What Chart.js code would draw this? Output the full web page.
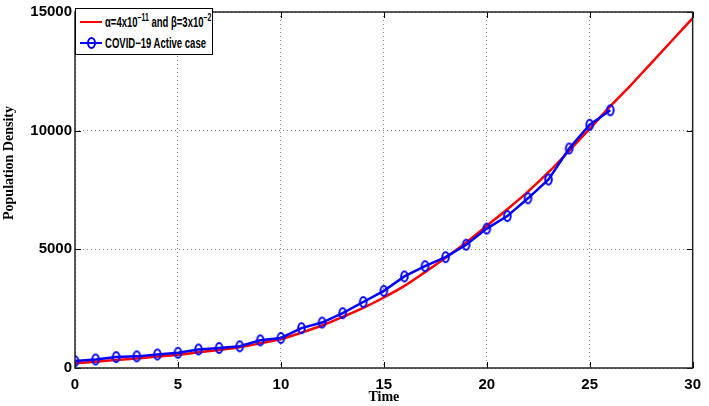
<!DOCTYPE html>
<html>
<head>
<meta charset="utf-8">
<script src="https://cdn.jsdelivr.net/npm/chart.js@4.4.0/dist/chart.umd.min.js"></script>
<style>
  html, body { margin:0; padding:0; background:#fff; }
  #wrap { position:relative; width:709px; height:406px; }
  canvas { display:block; }
  #legend {
    position:absolute; left:75px; top:8px; width:138px; height:47px;
    box-sizing:border-box; border:1px solid #000; background:#fff;
    font-family:"Liberation Sans",Arial,sans-serif;
    font-weight:bold; font-size:14px; color:#000;
  }
  .row { position:absolute; left:4px; height:20px; display:flex; align-items:center; white-space:nowrap; }
  .sw { position:relative; width:22px; height:20px; margin-right:3px; flex:none; }
  .sw .ln { position:absolute; left:0; right:0; top:9px; height:2px; }
  .sw .mk { position:absolute; left:7px; top:4px; width:5px; height:8px; border:2px solid #0000ff; border-radius:50%; }
  .txt { display:inline-block; transform:scaleX(0.68); transform-origin:left center; }
  sup { font-size:10px; line-height:0; vertical-align:6px; }
</style>
</head>
<body>
<div id="wrap">
  <canvas id="c" width="709" height="406"></canvas>
  <div id="legend">
    <div class="row" style="top:3px"><div class="sw"><div class="ln" style="background:#ff0000"></div></div><span class="txt">α=4x10<sup>−11</sup> and β=3x10<sup>−2</sup></span></div>
    <div class="row" style="top:24px"><div class="sw"><div class="ln" style="background:#0000ff"></div><div class="mk"></div></div><span class="txt">COVID−19 Active case</span></div>
  </div>
</div>
<script>
const modelTime = [0,1,2,3,4,5,6,7,8,9,10,11,12,13,14,15,16,17,18,19,20,21,22,23,24,25,26,27,28,29,30];
const modelValues = [200,265,335,405,480,560,660,760,875,1040,1220,1490,1790,2150,2530,2970,3460,4040,4650,5290,5990,6690,7430,8250,9150,10080,11030,11920,12860,13800,14740];
const caseTime = [0,1,2,3,4,5,6,7,8,9,10,11,12,13,14,15,16,17,18,19,20,21,22,23,24,25,26];
const caseValues = [290,360,460,490,570,640,780,845,915,1165,1265,1680,1915,2310,2780,3250,3860,4290,4670,5195,5875,6400,7150,7945,9250,10250,10860];
const xTicks = [0,5,10,15,20,25,30];
const yTicks = [0,5000,10000,15000];

const toXY = (xs, ys) => xs.map((x, i) => ({x: x, y: ys[i]}));

// oval "o" marker like MATLAB's
const marker = document.createElement('canvas');
marker.width = 11; marker.height = 14;
(function () {
  const m = marker.getContext('2d');
  m.strokeStyle = '#0000ff';
  m.lineWidth = 2;
  m.beginPath();
  m.ellipse(5.5, 7, 3.3, 5, 0, 0, Math.PI * 2);
  m.stroke();
})();

const framePlugin = {
  id: 'frame',
  afterDatasetsDraw(chart) {
    const {ctx, chartArea: a, scales} = chart;
    ctx.save();
    ctx.strokeStyle = '#000';
    ctx.lineWidth = 1;
    ctx.beginPath();
    xTicks.forEach(v => {
      const px = Math.round(scales.x.getPixelForValue(v)) + 0.5;
      ctx.moveTo(px, a.bottom); ctx.lineTo(px, a.bottom - 6);
      ctx.moveTo(px, a.top); ctx.lineTo(px, a.top + 6);
    });
    yTicks.forEach(v => {
      const py = Math.round(scales.y.getPixelForValue(v)) + 0.5;
      ctx.moveTo(a.left, py); ctx.lineTo(a.left + 6, py);
      ctx.moveTo(a.right, py); ctx.lineTo(a.right - 6, py);
    });
    ctx.stroke();
    ctx.strokeStyle = '#222';
    ctx.lineWidth = 1.5;
    ctx.strokeRect(a.left, a.top, a.right - a.left, a.bottom - a.top);
    ctx.restore();
  },
  afterDraw(chart) {
    const ctx = chart.ctx;
    ctx.save();
    ctx.translate(9, 163);
    ctx.rotate(-Math.PI / 2);
    ctx.font = 'bold 14px "Liberation Serif", "Times New Roman", serif';
    ctx.fillStyle = '#000';
    ctx.textAlign = 'center';
    ctx.textBaseline = 'middle';
    ctx.fillText('Population Density', 0, 0);
    ctx.restore();
  }
};

const tickFont = { family: '"Liberation Sans", Arial, sans-serif', weight: 'bold', size: 15 };

new Chart(document.getElementById('c'), {
  type: 'line',
  data: {
    datasets: [
      {
        label: 'model',
        data: toXY(modelTime, modelValues),
        borderColor: '#ff0000',
        borderWidth: 2.5,
        pointRadius: 0,
        cubicInterpolationMode: 'monotone',
        fill: false,
        order: 2
      },
      {
        label: 'COVID-19 Active case',
        data: toXY(caseTime, caseValues),
        borderColor: '#0000ff',
        borderWidth: 2.5,
        pointStyle: marker,
        pointRadius: 5,
        tension: 0,
        fill: false,
        order: 1
      }
    ]
  },
  options: {
    responsive: false,
    animation: false,
    layout: { padding: { left: 0, right: 12, top: 8, bottom: 0 } },
    plugins: { legend: { display: false }, tooltip: { enabled: false } },
    scales: {
      x: {
        type: 'linear', min: 0, max: 30,
        afterFit(s) { s.height = 38; },
        afterBuildTicks(s) { s.ticks = xTicks.map(v => ({value: v})); },
        grid: { color: '#8a8a8a', lineWidth: 1, drawTicks: false },
        border: { display: false, dash: [1, 3] },
        ticks: { color: '#000', padding: 8, font: tickFont, callback: v => String(v) },
        title: { display: true, text: 'Time', color: '#000', padding: { top: 0, bottom: 0 }, font: { family: '"Liberation Serif", "Times New Roman", serif', weight: 'bold', size: 14 } }
      },
      y: {
        type: 'linear', min: 0, max: 15000,
        afterFit(s) { s.width = 75; },
        afterBuildTicks(s) { s.ticks = yTicks.map(v => ({value: v})); },
        grid: { color: '#8a8a8a', lineWidth: 1, drawTicks: false },
        border: { display: false, dash: [1, 3] },
        ticks: { color: '#000', padding: 3, font: tickFont, callback: v => String(v) }
      }
    }
  },
  plugins: [framePlugin]
});
</script>
</body>
</html>
